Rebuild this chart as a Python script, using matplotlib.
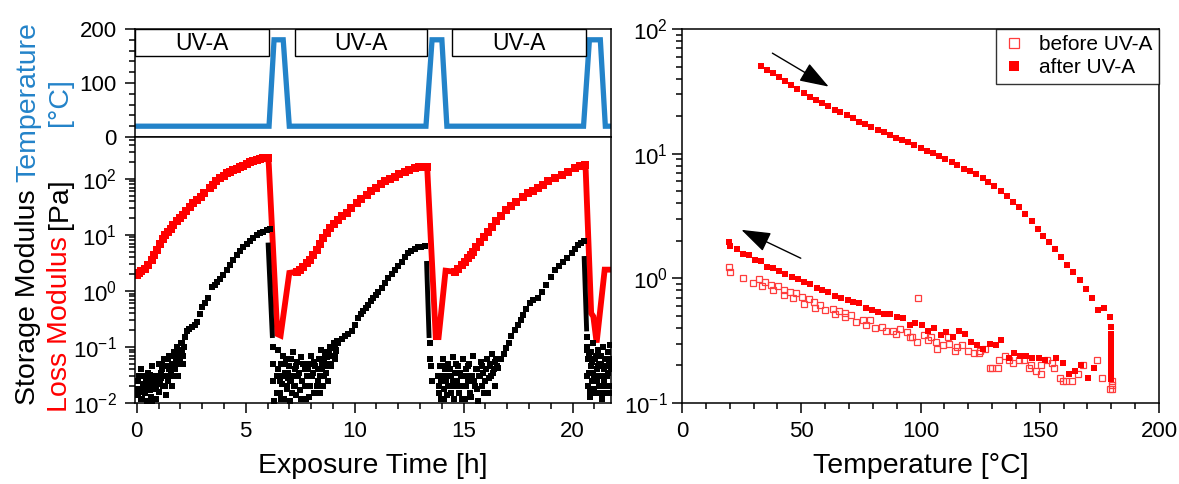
import numpy as np
import matplotlib as mpl
import matplotlib.pyplot as plt
from matplotlib.patches import Rectangle
from matplotlib.ticker import MultipleLocator, LogLocator, FuncFormatter, NullFormatter

mpl.rcParams['font.family'] = ['Liberation Sans', 'DejaVu Sans']
mpl.rcParams['axes.linewidth'] = 1.1

BLUE = '#2383c9'
RED = '#ff0000'

# ---- temperature profile (top left) ----
temp_t = [0, 6.07, 6.3, 6.72, 7.0, 13.27, 13.55, 14.0, 14.23, 20.5, 20.77, 21.27, 21.5, 21.76]
temp_v = [20, 20, 180, 180, 20, 20, 180, 180, 20, 20, 180, 180, 20, 20]
uv_start = [-0.08, 7.27, 14.47]
uv_end = [6.07, 13.3, 20.6]

# ---- loss modulus (red) ----
loss_t = [0, 0.1, 0.2, 0.38, 0.5, 0.69, 0.8, 0.92, 1.05, 1.19,
          1.3, 1.45, 1.55, 1.68, 1.85, 1.99, 2.12, 2.26, 2.43, 2.6,
          2.77, 2.93, 3.1, 3.36, 3.5, 3.65, 3.82, 4.0, 4.15, 4.28,
          4.43, 4.58, 4.73, 4.88, 5.04, 5.19, 5.34, 5.5, 5.65, 5.8,
          5.95, 6.03,
          7.34, 7.5, 7.65, 7.8, 7.95, 8.1, 8.26, 8.41, 8.56, 8.71,
          8.87, 9.05, 9.25, 9.44, 9.63, 9.85, 10.1, 10.3, 10.55, 10.75,
          11.0, 11.2, 11.39, 11.6, 11.85, 12.05, 12.3, 12.5, 12.76, 12.95,
          13.15, 13.3,
          14.6, 14.76, 14.93, 15.07, 15.2, 15.32, 15.43, 15.58, 15.74, 15.93,
          16.12, 16.3, 16.5, 16.73, 16.96, 17.19, 17.42, 17.7, 17.96, 18.2,
          18.42, 18.65, 18.88, 19.18, 19.49, 19.8, 20.1, 20.33, 20.56]
loss_v = [1.93, 2.1, 2.3, 2.5, 2.9, 3.5, 4.3, 5.4, 7.0, 8.5,
          10, 11.5, 13, 15, 17.5, 20, 23, 27, 32, 37,
          42, 48, 55, 68, 78, 90, 103, 115, 125, 132,
          142, 152, 162, 172, 185, 198, 210, 220, 228, 233,
          238, 240,
          2.2, 2.4, 2.7, 3.1, 3.5, 4.3, 5.4, 7.0, 8.7, 11,
          13.2, 16, 18.6, 21.5, 24.5, 30, 37, 44, 52, 61,
          70, 80, 90, 100, 110, 122, 135, 147, 158, 162,
          163, 162,
          2.2, 2.5, 2.9, 3.3, 3.8, 4.4, 5.0, 6.0, 7.4, 9.3,
          11.5, 14, 17.4, 22, 28, 33, 39, 47, 55, 61,
          68, 78, 90, 103, 118, 135, 155, 167, 178]
# heating steps, where the dense data look like a thick line
loss_drop_t = [[6.03, 6.06, 6.45, 6.6, 7.0, 7.34],
               [13.3, 13.33, 13.72, 13.85, 14.17, 14.6],
               [20.56, 20.6, 20.85, 20.95, 21.1, 21.47, 21.76]]
loss_drop_v = [[240, 178, 0.17, 0.16, 2.1, 2.2],
               [162, 150, 0.15, 0.15, 2.3, 2.2],
               [178, 140, 0.4, 0.35, 0.12, 2.4, 2.4]]

# ---- storage modulus (black) ----
stor_t = [2.07, 2.2, 2.3, 2.42, 2.53, 2.65, 2.76, 2.88, 2.99, 3.15,
          3.29, 3.45, 3.58, 3.7, 3.84, 3.98, 4.13, 4.28, 4.43, 4.59,
          4.74, 4.89, 5.05, 5.2, 5.35, 5.5, 5.65, 5.81, 5.96, 6.12,
          8.94, 9.1, 9.25, 9.4, 9.56, 9.7, 9.86, 10.02, 10.17, 10.3,
          10.4, 10.52, 10.63, 10.75, 10.86, 10.96, 11.06, 11.24, 11.39, 11.54,
          11.7, 11.85, 12.0, 12.15, 12.3, 12.46, 12.6, 12.76, 12.9, 13.05,
          13.22,
          16.58, 16.73, 16.85, 16.96, 17.08, 17.19, 17.35, 17.5, 17.62, 17.73,
          17.88, 18.03, 18.2, 18.42, 18.6, 18.8, 19.0, 19.18, 19.38, 19.57,
          19.76, 19.95, 20.1, 20.26, 20.4, 20.53]
stor_v = [0.12, 0.15, 0.19, 0.21, 0.23, 0.25, 0.28, 0.38, 0.52, 0.62,
          0.76, 1.19, 1.3, 1.47, 1.65, 1.93, 2.4, 2.9, 3.6, 4.4,
          5.2, 6.1, 7.0, 7.8, 8.8, 10, 10.8, 11.5, 12.1, 12.6,
          0.095, 0.11, 0.12, 0.14, 0.16, 0.17, 0.19, 0.25, 0.33, 0.38,
          0.43, 0.5, 0.56, 0.65, 0.74, 0.85, 0.97, 1.12, 1.4, 1.69,
          2.0, 2.4, 2.8, 3.3, 4.0, 4.7, 5.2, 5.7, 6.0, 6.2,
          6.3,
          0.042, 0.06, 0.075, 0.095, 0.12, 0.16, 0.2, 0.25, 0.3, 0.37,
          0.47, 0.6, 0.68, 0.74, 0.95, 1.28, 1.8, 2.4, 2.8, 3.3,
          3.9, 4.7, 5.6, 6.6, 7.2, 7.8]
stor_drop_t = [[6.03, 6.22], [13.3, 13.41], [20.53, 20.64]]
stor_drop_v = [[6.6, 0.16], [3.1, 0.16], [3.8, 0.21]]
# noisy low-modulus readings
noise_t = [0.05, 0.08, 0.15, 0.2, 0.25, 0.3, 0.32, 0.4, 0.45, 0.5,
           0.52, 0.6, 0.65, 0.7, 0.72, 0.8, 0.85, 0.9, 0.95, 1.0,
           1.02, 1.1, 1.15, 1.2, 1.25, 1.3, 1.32, 1.4, 1.45, 1.5,
           1.55, 1.6, 1.62, 1.7, 1.75, 1.8, 1.85, 1.9, 1.95, 2.0,
           2.05, 2.1, 2.15, 2.2,
           6.25, 6.27, 6.27, 6.3, 6.45, 6.5, 6.55, 6.6, 6.65, 6.7,
           6.75, 6.8, 6.85, 6.9, 6.95, 7.0, 7.05, 7.1, 7.15, 7.2,
           7.25, 7.3, 7.35, 7.4, 7.5, 7.55, 7.6, 7.7, 7.75, 7.8,
           7.9, 7.95, 8.0, 8.1, 8.15, 8.2, 8.3, 8.35, 8.4, 8.45,
           8.5, 8.55, 8.6, 8.65, 8.7, 8.75, 8.8, 8.85, 8.9, 9.0,
           9.05, 9.1, 9.15, 9.2,
           13.45, 13.45, 13.5, 13.55,
           13.85, 13.9, 13.95, 14.0, 14.05, 14.1, 14.15, 14.2, 14.25, 14.3,
           14.4, 14.45, 14.5, 14.55, 14.6, 14.7, 14.75, 14.8, 14.9, 14.95,
           15.0, 15.05, 15.1, 15.2, 15.25, 15.3, 15.4, 15.45, 15.5, 15.6,
           15.65, 15.7, 15.8, 15.85, 15.9, 16.0, 16.05, 16.1, 16.2, 16.25,
           16.3, 16.4, 16.45, 16.5,
           20.66, 20.68,
           20.65, 20.7, 20.72, 20.75, 20.8, 20.82, 20.85, 20.9, 20.95, 21.0,
           21.02, 21.05, 21.1, 21.15, 21.2, 21.22, 21.25, 21.3, 21.35, 21.4,
           21.42, 21.45, 21.5, 21.55, 21.6, 21.62, 21.65, 21.7, 21.72, 21.75]
noise_v = [0.025, 0.014, 0.018, 0.04, 0.012, 0.02, 0.03, 0.015, 0.011, 0.022,
           0.035, 0.017, 0.013, 0.026, 0.045, 0.019, 0.03, 0.012, 0.024, 0.05,
           0.016, 0.028, 0.04, 0.02, 0.06, 0.03, 0.014, 0.045, 0.025, 0.07,
           0.035, 0.05, 0.02, 0.08, 0.04, 0.06, 0.1, 0.03, 0.05, 0.09,
           0.12, 0.07, 0.1, 0.15,
           0.1, 0.05, 0.025, 0.011, 0.03, 0.09, 0.015, 0.05, 0.022, 0.07,
           0.012, 0.035, 0.06, 0.018, 0.028, 0.045, 0.011, 0.025, 0.08, 0.02,
           0.04, 0.014, 0.055, 0.03, 0.017, 0.065, 0.025, 0.04, 0.012, 0.03,
           0.05, 0.02, 0.07, 0.035, 0.015, 0.045, 0.025, 0.06, 0.03, 0.09,
           0.04, 0.02, 0.055, 0.08, 0.035, 0.065, 0.05, 0.1, 0.045, 0.07,
           0.12, 0.06, 0.09, 0.13,
           0.12, 0.06, 0.045, 0.025,
           0.02, 0.045, 0.012, 0.03, 0.06, 0.018, 0.04, 0.025, 0.014, 0.05,
           0.03, 0.02, 0.065, 0.012, 0.035, 0.025, 0.045, 0.015, 0.03, 0.06,
           0.02, 0.012, 0.04, 0.025, 0.05, 0.015, 0.03, 0.07, 0.02, 0.04,
           0.011, 0.03, 0.055, 0.02, 0.035, 0.025, 0.06, 0.015, 0.045, 0.03,
           0.075, 0.04, 0.02, 0.06,
           0.15, 0.09,
           0.1, 0.02, 0.06, 0.035, 0.013, 0.08, 0.045, 0.025, 0.12, 0.03,
           0.06, 0.015, 0.04, 0.09, 0.02, 0.05, 0.03, 0.07, 0.012, 0.1,
           0.04, 0.025, 0.06, 0.015, 0.08, 0.035, 0.05, 0.02, 0.11, 0.04]
noise2_t = [0.02, 0.12, 0.18, 0.28, 0.35, 0.42, 0.55, 0.62, 0.68, 0.78,
            0.88, 0.98, 1.08, 1.12, 1.18, 1.28, 1.38, 1.42, 1.48, 1.58,
            1.65, 1.68, 1.78, 1.82, 1.88, 1.98, 2.08, 2.12,
            6.42, 6.48, 6.58, 6.62, 6.72, 6.78, 6.88, 6.92, 7.02, 7.08,
            7.12, 7.18, 7.28, 7.32, 7.45, 7.52, 7.65, 7.72, 7.85, 7.92,
            8.05, 8.12, 8.25, 8.32, 8.42, 8.48, 8.58, 8.62, 8.72, 8.78,
            8.82, 8.92, 8.98, 9.08, 9.12,
            13.82, 13.88, 13.98, 14.02, 14.12, 14.18, 14.28, 14.35, 14.42, 14.52,
            14.65, 14.72, 14.85, 14.92, 15.02, 15.12, 15.18, 15.28, 15.35, 15.48,
            15.55, 15.62, 15.75, 15.82, 15.95, 16.02, 16.15, 16.22, 16.35, 16.42,
            16.55,
            20.67, 20.73, 20.78, 20.87, 20.92, 20.98, 21.07, 21.12, 21.18, 21.28,
            21.32, 21.38, 21.48, 21.52, 21.58, 21.68, 21.74]
noise2_v = [0.018, 0.03, 0.012, 0.022, 0.016, 0.028, 0.02, 0.032, 0.011, 0.025,
            0.018, 0.03, 0.022, 0.035, 0.05, 0.02, 0.03, 0.06, 0.04, 0.03,
            0.07, 0.045, 0.05, 0.03, 0.07, 0.06, 0.08, 0.05,
            0.015, 0.04, 0.025, 0.012, 0.03, 0.05, 0.02, 0.035, 0.025, 0.06,
            0.015, 0.03, 0.02, 0.045, 0.035, 0.012, 0.05, 0.02, 0.04, 0.013,
            0.03, 0.055, 0.02, 0.04, 0.015, 0.05, 0.03, 0.07, 0.045, 0.025,
            0.08, 0.05, 0.1, 0.07, 0.085,
            0.03, 0.015, 0.025, 0.045, 0.012, 0.03, 0.02, 0.04, 0.015, 0.025,
            0.05, 0.02, 0.035, 0.012, 0.03, 0.02, 0.045, 0.03, 0.013, 0.025,
            0.04, 0.018, 0.03, 0.045, 0.015, 0.04, 0.028, 0.05, 0.035, 0.055,
            0.045,
            0.03, 0.07, 0.016, 0.055, 0.035, 0.018, 0.07, 0.025, 0.045, 0.015,
            0.05, 0.03, 0.02, 0.045, 0.03, 0.06, 0.015]

# ---- right panel: modulus vs temperature ----
before_T = [19.9, 20.3, 25.4, 29.6, 32.2, 33.7, 34.8, 37.5, 38.1, 40.1,
            42.6, 42.6, 45.3, 46.6, 47.7, 50.5, 51, 53.2, 55.5, 55.7,
            58, 60, 63.2, 64, 65.8, 68.5, 68.5, 70.7, 72.9, 75.9,
            77, 78.9, 81, 83.9, 85.6, 88.6, 89.8, 91.6, 94.2, 95.4,
            96.6, 98.4, 99.1, 101.6, 103.1, 104.3, 106.6, 107, 109.6, 111.5,
            112.1, 114.5, 115.5, 117.5, 120, 122.3, 124.5, 124.8, 127, 129,
            130, 132.4, 133, 135.4, 137.2, 138.7, 141.2, 143.2, 145.4, 146.2,
            148.4, 150.7, 150.7, 153.2, 155.2, 155.9, 158.4, 159.6, 160.8, 163.4,
            165.9, 168.3, 173.8, 176.1, 179.5, 180.2, 180.2, 180.2]
before_G = [1.24, 1.13, 1.01, 0.91, 0.99, 0.87, 0.93, 0.88, 0.80, 0.86,
            0.81, 0.73, 0.77, 0.69, 0.76, 0.71, 0.62, 0.68, 0.65, 0.58,
            0.61, 0.56, 0.57, 0.52, 0.55, 0.53, 0.49, 0.51, 0.45, 0.46,
            0.42, 0.46, 0.40, 0.41, 0.38, 0.38, 0.36, 0.39, 0.37, 0.34,
            0.34, 0.31, 0.70, 0.35, 0.32, 0.34, 0.31, 0.27, 0.29, 0.34,
            0.30, 0.26, 0.28, 0.29, 0.26, 0.25, 0.25, 0.26, 0.27, 0.19,
            0.19, 0.19, 0.22, 0.24, 0.22, 0.21, 0.22, 0.22, 0.19, 0.20,
            0.18, 0.20, 0.17, 0.22, 0.21, 0.19, 0.16, 0.15, 0.15, 0.15,
            0.17, 0.20, 0.22, 0.16, 0.13, 0.13, 0.14, 0.15]
after_heat_T = [33, 35.5, 38, 40.6, 43.3, 45.8, 48.4, 51, 53.7, 56.3,
                58.8, 61.2, 64, 66.4, 69.1, 71.6, 74.3, 76.9, 79.4, 82.1,
                84.6, 87.2, 89.9, 92.4, 94.9, 97.3, 100, 102.7, 105.2, 107.8,
                110.3, 113, 115.5, 118.2, 120.7, 123.3, 126, 128.5, 131, 133.6,
                136.1, 138.8, 141.3, 144, 146.6, 149.1, 151.5, 153.8, 156.4, 159,
                161.4, 164.1, 166.8, 169.4, 172, 174.6, 177, 179.5, 180]
after_heat_G = [50.8, 47, 44.4, 41.2, 38, 35.3, 33, 30.5, 28.5, 27.1,
                25.5, 24.3, 22.5, 21.7, 20.4, 19.2, 18.1, 17.3, 16.5, 15.6,
                14.8, 14.2, 13.4, 12.9, 12.3, 11.7, 11.2, 10.6, 10.1, 9.5,
                9.1, 8.6, 8.05, 7.6, 7.2, 6.9, 6.4, 5.9, 5.5, 5.0,
                4.6, 4.1, 3.7, 3.3, 2.9, 2.5, 2.2, 1.94, 1.71, 1.49,
                1.29, 1.12, 0.97, 0.82, 0.69, 0.56, 0.58, 0.49, 0.41]
after_hold_T = [180, 180, 180, 180, 180, 180, 180, 180, 180, 180, 180, 180, 180, 180, 180]
after_hold_G = [0.36, 0.33, 0.31, 0.29, 0.27, 0.25, 0.24, 0.22, 0.21, 0.2,
                0.19, 0.18, 0.17, 0.16, 0.155]
after_cool_T = [19.9, 20.2, 22.9, 25.6, 28.1, 30.6, 33, 35.6, 38.3, 40.8,
                43.3, 46, 48.6, 51.1, 53.8, 56.4, 58.9, 61.4, 64.1, 66.7,
                69.4, 71.9, 74.4, 77.1, 79.7, 82.2, 84.9, 87.4, 90.1, 92.7,
                95.4, 97.8, 100.6, 103.1, 105.5, 108.4, 110.8, 113.6, 116, 118.5,
                121.2, 123.8, 126.3, 129, 131.5, 133.9, 136.9, 139, 141.7, 144.4,
                146.9, 149.5, 152.2, 156.9, 159.6, 162.3, 164.9, 167.4, 170.1, 172.8]
after_cool_G = [1.94, 1.82, 1.71, 1.57, 1.53, 1.40, 1.37, 1.23, 1.20, 1.14,
                1.08, 1.03, 0.98, 0.93, 0.90, 0.84, 0.81, 0.78, 0.72, 0.70,
                0.67, 0.64, 0.63, 0.58, 0.56, 0.54, 0.52, 0.52, 0.49, 0.48,
                0.42, 0.44, 0.42, 0.38, 0.40, 0.35, 0.37, 0.34, 0.38, 0.36,
                0.31, 0.29, 0.27, 0.30, 0.29, 0.32, 0.23, 0.25, 0.24, 0.24,
                0.23, 0.23, 0.22, 0.23, 0.21, 0.17, 0.18, 0.20, 0.16, 0.19]

W, H = 1179, 484
fig = plt.figure(figsize=(W / 100, H / 100), dpi=100)
fig.patch.set_facecolor('white')

def frac(x0, y0, x1, y1):
    return [x0 / W, 1 - y1 / H, (x1 - x0) / W, (y1 - y0) / H]

ax_top = fig.add_axes(frac(135, 29, 611, 137))
ax_bot = fig.add_axes(frac(135, 137, 611, 403))
ax_r = fig.add_axes(frac(682, 29, 1159, 403))

def log_fmt(v, pos):
    return r'$\mathregular{10^{%d}}$' % int(round(np.log10(v)))

for ax in (ax_top, ax_bot, ax_r):
    ax.tick_params(which='both', direction='out', labelsize=16, width=1.1,
                   top=False, right=False)
    ax.tick_params(which='major', length=7)
    ax.tick_params(which='minor', length=4)
    ax.tick_params(axis='x', pad=6)
    ax.tick_params(axis='y', pad=6)

# top: temperature
ax_top.plot(temp_t, temp_v, color=BLUE, lw=3.8, solid_joinstyle='miter')
for s, e in zip(uv_start, uv_end):
    ax_top.add_patch(Rectangle((s, 150), e - s, 50, facecolor='white',
                               edgecolor='black', lw=1, zorder=3))
    ax_top.text((s + e) / 2, 173, 'UV-A', ha='center', va='center',
                fontsize=16.5, zorder=4)
ax_top.set_xlim(-0.08, 21.76)
ax_top.set_ylim(0, 200)
ax_top.yaxis.set_major_locator(MultipleLocator(100))
ax_top.yaxis.set_minor_locator(MultipleLocator(20))
ax_top.tick_params(axis='x', which='both', bottom=False, labelbottom=False)

# bottom: moduli vs exposure time
for dt, dv in zip(loss_drop_t, loss_drop_v):
    ax_bot.plot(dt, dv, color=RED, lw=4.2, solid_joinstyle='miter')
for dt, dv in zip(stor_drop_t, stor_drop_v):
    ax_bot.plot(dt, dv, color='black', lw=3.5)
ax_bot.plot(noise_t, noise_v, ls='none', marker='s', ms=5, mew=0,
            color='black')
ax_bot.plot(noise2_t, noise2_v, ls='none', marker='s', ms=5, mew=0,
            color='black')
ax_bot.plot(stor_t, stor_v, ls='none', marker='s', ms=5, mew=0,
            color='black')
ax_bot.plot(loss_t, loss_v, ls='none', marker='s', ms=5.3, mew=0,
            color=RED)
ax_bot.set_yscale('log')
ax_bot.set_xlim(-0.08, 21.76)
ax_bot.set_ylim(0.01, 560)
ax_bot.yaxis.set_major_locator(LogLocator(base=10, numticks=10))
ax_bot.yaxis.set_minor_locator(LogLocator(base=10, subs=np.arange(2, 10), numticks=10))
ax_bot.yaxis.set_major_formatter(FuncFormatter(log_fmt))
ax_bot.yaxis.set_minor_formatter(NullFormatter())
ax_bot.xaxis.set_major_locator(MultipleLocator(5))
ax_bot.xaxis.set_minor_locator(MultipleLocator(1))
ax_bot.set_xlabel('Exposure Time [h]', fontsize=20.5, labelpad=8)

# right: moduli vs temperature
ax_r.plot(before_T, before_G, ls='none', marker='s', ms=5, mfc='none',
          mec='#ff3c3c', mew=0.9, label='before UV-A')
ax_r.plot(after_heat_T, after_heat_G, ls='none', marker='s', ms=4.6,
          mew=0, color=RED, label='after UV-A')
ax_r.plot(after_hold_T, after_hold_G, ls='none', marker='s', ms=4.6, mew=0, color=RED)
ax_r.plot(after_cool_T, after_cool_G, ls='none', marker='s', ms=4.6, mew=0, color=RED)
ax_r.set_yscale('log')
ax_r.set_xlim(0, 200)
ax_r.set_ylim(0.1, 100)
ax_r.yaxis.set_major_locator(LogLocator(base=10, numticks=10))
ax_r.yaxis.set_minor_locator(LogLocator(base=10, subs=np.arange(2, 10), numticks=10))
ax_r.yaxis.set_major_formatter(FuncFormatter(log_fmt))
ax_r.yaxis.set_minor_formatter(NullFormatter())
ax_r.xaxis.set_major_locator(MultipleLocator(50))
ax_r.xaxis.set_minor_locator(MultipleLocator(10))
ax_r.tick_params(axis='y', pad=3)
ax_r.set_xlabel('Temperature [°C]', fontsize=20.5, labelpad=8)

arrow = dict(arrowstyle='-|>,head_length=1.3,head_width=0.45', color='black',
             lw=1, mutation_scale=14, shrinkA=0, shrinkB=0)
ax_r.annotate('', xy=(61.5, 34.5), xytext=(37.9, 64), arrowprops=arrow)
ax_r.annotate('', xy=(24.9, 2.45), xytext=(49.8, 1.45), arrowprops=arrow)

leg = ax_r.legend(loc='upper right', fontsize=15, frameon=True, fancybox=False,
                  borderaxespad=0, markerscale=1.45, handletextpad=0.6,
                  borderpad=0.3, labelspacing=0.2, handlelength=1.2)
leg.get_frame().set_edgecolor('black')
leg.get_frame().set_linewidth(1)

# rotated multi-coloured y labels
fig.canvas.draw()
renderer = fig.canvas.get_renderer()

def stack(x, y_px, parts, gap=7):
    y = 1 - y_px / H
    out = []
    for s, c in parts:
        t = fig.text(x, y, s, rotation=90, color=c, fontsize=20.5,
                     ha='center', va='bottom')
        h = t.get_window_extent(renderer).height / H
        out.append((t, y, h))
        y += h + gap / H
    return out

col1 = stack(28 / W, 405, [('Storage Modulus', 'black'), ('Temperature', BLUE)])
stack(60 / W, 412, [('Loss Modulus', RED), ('[Pa]', 'black')])
_, ty, th = col1[1]
fig.text(60 / W, ty + th / 2, '[°C]', rotation=90, color=BLUE, fontsize=20.5,
         ha='center', va='center')

fig.savefig('out.png', dpi=100)
